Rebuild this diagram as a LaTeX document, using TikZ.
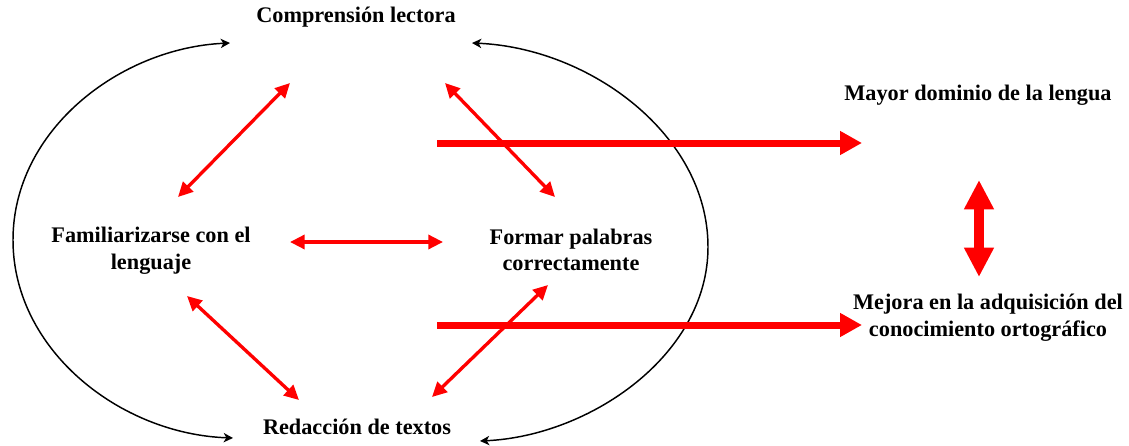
\documentclass[tikz,border=0pt]{standalone}
\usepackage{fontspec}
\setmainfont{Liberation Serif}
\usetikzlibrary{arrows.meta}

\tikzset{
  thin link/.style={draw=red, line width=2.5pt,
    {Triangle[length=11pt,width=10.5pt]}-{Triangle[length=11pt,width=10.5pt]}},
  big link/.style={draw=red, line width=5.25pt,
    -{Triangle[length=16.5pt,width=17pt]}},
  both link/.style={draw=red, line width=7.5pt,
    {Triangle[length=22pt,width=21pt]}-{Triangle[length=22pt,width=21pt]}},
  loop arc/.style={draw=black, line width=1.1pt,
    {Stealth[length=7pt,width=7pt,inset=2pt]}-{Stealth[length=7pt,width=7pt,inset=2pt]}},
}

\begin{document}
\begin{tikzpicture}[x=0.75pt, y=-0.75pt, font=\bfseries\fontsize{16.7}{20}\selectfont]
\useasboundingbox (0,0) rectangle (1129,446);

% texts
\node (comp) at (356,17)   {Comprensión lectora};
\node (redac) at (357,427) {Redacción de textos};
\node[align=center] (famil) at (151,251)  {Familiarizarse con el\\lenguaje};
\node[align=center] (formar) at (571,250) {Formar palabras\\correctamente};
\node (mayor) at (978,95)  {Mayor dominio de la lengua};
\node[align=center] (mejora) at (988,318) {Mejora en la adquisición del\\conocimiento ortográfico};

% arrow ends
\coordinate (comp-w) at (230,43);
\coordinate (comp-e) at (472,43);
\coordinate (comp-sw) at (290,83);
\coordinate (comp-se) at (445,83);
\coordinate (redac-w) at (233,438);
\coordinate (redac-e) at (480,441);
\coordinate (redac-nw) at (299,400);
\coordinate (redac-ne) at (432,397);
\coordinate (famil-ne) at (178,197);
\coordinate (famil-e) at (290,242);
\coordinate (famil-se) at (187,296);
\coordinate (formar-nw) at (555,197);
\coordinate (formar-w) at (443,242);
\coordinate (formar-sw) at (548,285);
\coordinate (mayor-w) at (862,143);
\coordinate (mayor-s) at (979,180);
\coordinate (mejora-w) at (862,325);
\coordinate (mejora-n) at (979,277);
\coordinate (upper-start) at (437,143);
\coordinate (lower-start) at (437,325);

% black arcs
\draw[loop arc] (redac-w) .. controls (120,434) and (13,350) .. (13,240)
  .. controls (13,130) and (120,48) .. (comp-w);
\draw[loop arc] (comp-e) .. controls (590,48) and (708,135) .. (708,247)
  .. controls (708,355) and (590,436) .. (redac-e);

% red links
\begin{scope}
\draw[thin link] (comp-sw) -- (famil-ne);
\draw[thin link] (comp-se) -- (formar-nw);
\draw[thin link] (famil-e) -- (formar-w);
\draw[thin link] (famil-se) -- (redac-nw);
\draw[thin link] (formar-sw) -- (redac-ne);
\draw[big link] (upper-start) -- (mayor-w);
\draw[big link] (lower-start) -- (mejora-w);
\draw[both link] (mayor-s) -- (mejora-n);
\end{scope}
\end{tikzpicture}
\end{document}
